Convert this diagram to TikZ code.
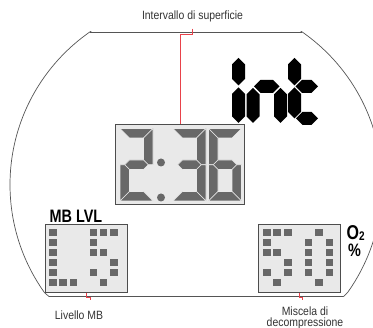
\documentclass[tikz,border=0pt]{standalone}
\usepackage{fontspec}
\setmainfont{Liberation Sans}
\newfontfamily\labelfont[FakeStretch=0.87]{Liberation Sans}
\newfontfamily\lcdfont[FakeStretch=0.8]{Liberation Sans}

\definecolor{lcdgray}{HTML}{686868}
\definecolor{lcdbg}{HTML}{E9E9E9}
\definecolor{lcdframe}{HTML}{4D4D4D}
\definecolor{rimgray}{HTML}{555555}
\definecolor{leadred}{HTML}{E8424A}
\definecolor{lbltext}{HTML}{333333}

% segment shapes of one grey LCD digit (local coordinates, y down)
\def\dW{33}\def\dH{72.5}\def\dT{9.5}\def\dM{36.25}
\def\sega{(0,0) -- (\dW,0) -- (\dW-\dT,\dT) -- (\dT,\dT) -- cycle}
\def\segb{(\dW,0) -- (\dW,\dM) -- (\dW-\dT/2,\dM) -- (\dW-\dT,\dM-\dT/2) -- (\dW-\dT,\dT) -- cycle}
\def\segc{(\dW,\dM) -- (\dW,\dH) -- (\dW-\dT,\dH-\dT) -- (\dW-\dT,\dM+\dT/2) -- (\dW-\dT/2,\dM) -- cycle}
\def\segd{(0,\dH) -- (\dW,\dH) -- (\dW-\dT,\dH-\dT) -- (\dT,\dH-\dT) -- cycle}
\def\sege{(0,\dM) -- (\dT/2,\dM) -- (\dT,\dM+\dT/2) -- (\dT,\dH-\dT) -- (0,\dH) -- cycle}
\def\segf{(0,0) -- (\dT,\dT) -- (\dT,\dM-\dT/2) -- (\dT/2,\dM) -- (0,\dM) -- cycle}
\def\segg{(\dT/2,\dM) -- (\dT,\dM-\dT/2) -- (\dW-\dT,\dM-\dT/2) -- (\dW-\dT/2,\dM) -- (\dW-\dT,\dM+\dT/2) -- (\dT,\dM+\dT/2) -- cycle}
\newcommand{\lcddigit}[3]{%
  \begin{scope}[shift={(#1,#2)}]
    \foreach \s in {#3} {\filldraw[segpart] \csname seg\s\endcsname;}
  \end{scope}}

% black segments with pointed ends
\newcommand{\hseg}[3]{\fill ({#1},{#3}) -- ({#1+6.5},{#3-6.5}) -- ({#2-6.5},{#3-6.5}) -- ({#2},{#3}) -- ({#2-6.5},{#3+6.5}) -- ({#1+6.5},{#3+6.5}) -- cycle;}
\newcommand{\vseg}[3]{\fill ({#1},{#2}) -- ({#1+6.5},{#2+6.5}) -- ({#1+6.5},{#3-6.5}) -- ({#1},{#3}) -- ({#1-6.5},{#3-6.5}) -- ({#1-6.5},{#2+6.5}) -- cycle;}

\begin{document}
\begin{tikzpicture}[x=1pt, y=-1pt,
    lcdbox/.style={draw=lcdframe, fill=lcdbg, line width=0.9pt, inner sep=0pt},
    segpart/.style={fill=lcdgray, draw=lcdbg, line width=0.6pt},
    lcddot/.style={fill=lcdgray},
    rimline/.style={draw=rimgray, line width=0.7pt},
    leader/.style={draw=leadred, line width=0.8pt},
    lbl/.style={font=\labelfont\fontsize{12}{10.3}\selectfont, text=lbltext, inner sep=0pt},
    lcdtext/.style={inner sep=0pt}]
\useasboundingbox (0,0) rectangle (373,328);
\clip (0,0) rectangle (373,328);

% Outline of the display
\begin{scope}
  \clip (0,32) rectangle (373,293);
  \draw[rimline] (196,184.7) circle (186);
\end{scope}
\draw[rimline] (89.8,32) -- (302.2,32);
\draw[rimline] (44.8,293) -- (49,296.5) -- (343.5,296.5) -- (347.2,293);

% LCD fields
\node[lcdbox, minimum width=128.6pt, minimum height=80pt] (timebox) at (180,164.3) {};
\node[lcdbox, minimum width=81.6pt, minimum height=68.3pt] (lvlbox) at (86.5,258.2) {};
\node[lcdbox, minimum width=81.7pt, minimum height=68.3pt] (mixbox) at (299.2,258.2) {};

% int
\vseg{238.5}{58}{85.5}
\vseg{238.5}{87.5}{123}
\hseg{254}{279.5}{86.5}
\vseg{253}{88}{123}
\vseg{280.5}{88}{123}
\vseg{294.5}{58}{85.5}
\vseg{294.5}{87.5}{118.5}
\hseg{295.5}{318}{86.5}
\hseg{296}{318}{118.5}

% 2:36
\lcddigit{120}{128.5}{a,b,g,e,d}
\lcddigit{173}{128.5}{a,b,g,c,d}
\lcddigit{208.5}{128.5}{a,f,g,e,c,d}
\fill[lcddot] (161,162.5) circle (4);
\fill[lcddot] (161,197.5) circle (4);

% dot matrix: L5 and 50
\foreach \c/\r in {0/0,0/1,0/2,0/3,0/4,0/5,1/5,2/5,
    4/0,5/0,6/0,4/1,4/2,5/2,6/3,4/4,6/4,5/5}
  \fill[lcddot] ({49.3+10.1*\c},{228.8+10*\r}) rectangle ++(7.6,7.6);
\foreach \c/\r in {0/0,1/0,2/0,0/1,0/2,1/2,2/3,0/4,2/4,1/5,
    5/0,4/1,6/1,4/2,6/2,4/3,6/3,4/4,6/4,5/5}
  \fill[lcddot] ({263+10.45*\c},{228.8+10*\r}) rectangle ++(7.6,7.6);

% Display texts
\node[lcdtext, anchor=base west, font=\lcdfont\bfseries\fontsize{18}{18}\selectfont] (lvltag) at (49.5,222.5) {MB LVL};
\node[lcdtext, anchor=base west, font=\lcdfont\bfseries\fontsize{20}{20}\selectfont] (otwo) at (346.5,240) {O{\fontsize{12.5}{12}\selectfont\raisebox{-1pt}{2}}};
\node[lcdtext, anchor=base west, font=\lcdfont\bfseries\fontsize{18}{18}\selectfont] (pct) at (348,256.7) {\%};

% Labels and leaders
\node[lbl, anchor=base] (title) at (192.5,19.3) {Intervallo di superficie};
\node[lbl, anchor=base] (lvllbl) at (79,320) {Livello MB};
\node[lbl, anchor=base, align=center] (mixlbl) at (305,326.3) {Miscela di\\decompressione};
\draw[leader] ([yshift=-6.7pt]title.south) -- ++(0,6) -| (timebox.north);
\draw[leader] (lvlbox.south) -- ++(0,4.2) -- ++(3.5,0) -- ++(0,3.5);
\draw[leader] (mixbox.south) -- ++(0,4.2) -- ++(3.2,0) -- ++(0,3.5);

\end{tikzpicture}
\end{document}
